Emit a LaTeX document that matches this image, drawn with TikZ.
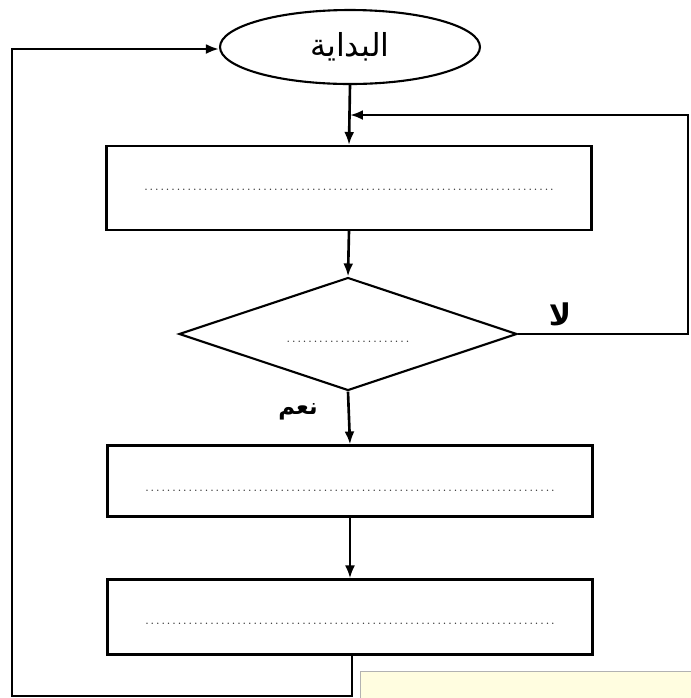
\documentclass[tikz,border=0pt]{standalone}
\usepackage{fontspec}
\newfontfamily\arabicfont[Script=Arabic]{DejaVu Sans}
\TeXXeTstate=1
\usetikzlibrary{shapes.geometric, arrows.meta, positioning}

\tikzset{
    flowline/.style={line width=1.5pt, -{Latex[length=2.6mm, width=2mm]}},
    procbox/.style={draw, line width=1.2pt, rectangle, minimum width=9.7cm, inner sep=0pt},
    dotrow/.style={text=gray!40!black}
}
\newcommand{\dotsrow}[2]{\raisebox{-#2}[0pt][0pt]{\makebox[#1]{\scriptsize\dotfill}}}

\begin{document}
\begin{tikzpicture}[x=0.02cm, y=-0.02cm]
    \clip (0,0) rectangle (691,698);
    \fill[white] (0,0) rectangle (691,698);

    % start ellipse
    \node (start) [draw, ellipse, line width=1.2pt, minimum width=5.2cm, minimum height=1.48cm]
        at (350,47) {\arabicfont\fontsize{18}{20}\selectfont\beginR البداية\endR};

    % process and decision shapes
    \node (box1) [procbox, minimum height=1.68cm, dotrow] at (349,188) {\dotsrow{8.3cm}{0.5mm}};
    \node (test) [draw, diamond, aspect=3, line width=1.2pt, minimum width=6.76cm, minimum height=2.26cm,
        inner sep=0pt, dotrow] at (348,334) {\dotsrow{2.55cm}{1.6mm}};
    \node (box2) [procbox, minimum height=1.42cm, dotrow] at (350,481) {\dotsrow{8.3cm}{2mm}};
    \node (box3) [procbox, minimum height=1.5cm, dotrow] at (350,617) {\dotsrow{8.3cm}{1.5mm}};

    % branch labels
    \node (no) at (560,314) {\arabicfont\bfseries\fontsize{17}{19}\selectfont\beginR لا\endR};
    \node (yes) at (298,412) {\arabicfont\bfseries\fontsize{13}{15}\selectfont\beginR نعم\endR};

    % helper points for the loops
    \coordinate (join) at (350,115);
    \coordinate (noTop) at (688,115);
    \coordinate (backDown) at (352,696);
    \coordinate (backLeft) at (12,696);
    \coordinate (backUp) at (12,49);

    % main flow
    \draw[flowline] (start.south) -- (box1.north);
    \draw[flowline] (box1.south) -- (test.north);
    \draw[flowline] (test.south) -- (box2.north);
    \draw[flowline] (box2.south) -- (box3.north);

    % "no" branch back to the top
    \draw[flowline] (test.east) -- (test.east -| noTop) -- (noTop) -- (join);

    % return loop to the start
    \draw[flowline] (box3.south -| backDown) -- (backDown) -- (backLeft) -- (backUp) -- (start.west |- backUp);

    % cropped panel at the bottom edge
    \draw[fill=yellow!12, draw=gray!60] (360,671) rectangle (720,720);
\end{tikzpicture}
\end{document}
